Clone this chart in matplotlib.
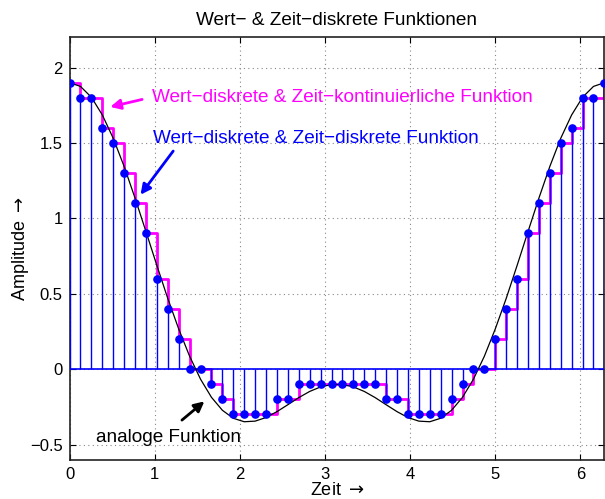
import numpy as np
import matplotlib
matplotlib.use("Agg")
import matplotlib.pyplot as plt

plt.rcParams['font.family'] = ['Liberation Sans', 'DejaVu Sans']
plt.rcParams['mathtext.fontset'] = 'dejavusans'

# sampling grid over one period
n_samples = 50
sample_times = np.linspace(0, 2 * np.pi, n_samples)

# analog signal at the sample times
analog_half = [1.900, 1.875, 1.803, 1.686, 1.531, 1.344, 1.134, 0.912, 0.687,
               0.468, 0.266, 0.085, -0.067, -0.187, -0.273, -0.326, -0.349,
               -0.345, -0.321, -0.282, -0.236, -0.189, -0.148, -0.118, -0.102]
analog_values = analog_half + analog_half[::-1]

# quantized samples (step 0.1)
quant_half = [1.9, 1.8, 1.8, 1.6, 1.5, 1.3, 1.1, 0.9, 0.6, 0.4, 0.2, 0.0, 0.0,
              -0.1, -0.2, -0.3, -0.3, -0.3, -0.3, -0.2, -0.2, -0.1, -0.1, -0.1, -0.1]
quant_values = quant_half + quant_half[::-1]

x_ticks = [0, 1, 2, 3, 4, 5, 6]
y_ticks = [-0.5, 0, 0.5, 1, 1.5, 2]

fig = plt.figure(figsize=(6.05, 4.99), dpi=100)
ax = fig.add_axes([0.115, 0.079, 0.884, 0.846])

# staircase (value-discrete, time-continuous)
ax.step(sample_times, quant_values, where='post', color='magenta', lw=2, zorder=2)
# stems (value- and time-discrete)
ax.axhline(0, color='blue', lw=1.2, zorder=3)
ax.vlines(sample_times, 0, quant_values, color='blue', lw=1, zorder=3)
# analog curve
ax.plot(sample_times, analog_values, color='black', lw=0.9, zorder=4)
ax.plot(sample_times, quant_values, 'o', color='blue', ms=5.2, zorder=5)

ax.set_xlim(0, 2 * np.pi)
ax.set_ylim(-0.6, 2.2)
ax.set_xticks(x_ticks)
ax.set_yticks(y_ticks)
ax.set_yticklabels(['\u22120.5', '0', '0.5', '1', '1.5', '2'])
ax.tick_params(direction='in', top=True, right=True, length=4, labelsize=12,
               width=0.8, pad=5)
ax.grid(True, linestyle=(0, (1, 3)), color='#888888', lw=0.8)
for s in ax.spines.values():
    s.set_linewidth(1.2)
    s.set_color('#222222')

ax.set_title('Wert\u2212 & Zeit\u2212diskrete Funktionen', fontsize=13.7, pad=9)
ax.set_xlabel(r'Zeit $\rightarrow$', fontsize=13, labelpad=0)
ax.set_ylabel(r'Amplitude $\rightarrow$', fontsize=13, labelpad=-1)

# annotations
ax.text(0.963, 1.775, 'Wert\u2212diskrete & Zeit\u2212kontinuierliche Funktion',
        color='magenta', fontsize=13.7, va='baseline')
ax.annotate('', xy=(0.446, 1.735), xytext=(0.884, 1.793),
            arrowprops=dict(arrowstyle='-|>', color='magenta', lw=2,
                            mutation_scale=15))
ax.text(0.982, 1.499, 'Wert\u2212diskrete & Zeit\u2212diskrete Funktion',
        color='blue', fontsize=13.7, va='baseline')
ax.annotate('', xy=(0.814, 1.142), xytext=(1.237, 1.461),
            arrowprops=dict(arrowstyle='-|>', color='blue', lw=2,
                            mutation_scale=15))
ax.text(0.309, -0.483, 'analoge Funktion', color='black', fontsize=13.7,
        va='baseline')
ax.annotate('', xy=(1.609, -0.202), xytext=(1.295, -0.350),
            arrowprops=dict(arrowstyle='-|>', color='black', lw=2,
                            mutation_scale=15))

fig.savefig('out.png', dpi=100)
